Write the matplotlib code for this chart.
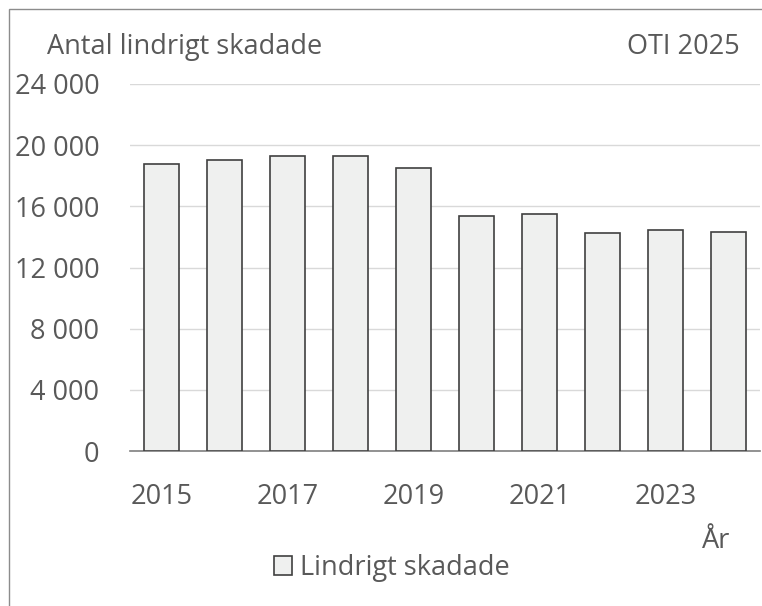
import matplotlib.pyplot as plt
from matplotlib.patches import Rectangle
from matplotlib.ticker import FuncFormatter

# Data
years = [2015, 2016, 2017, 2018, 2019, 2020, 2021, 2022, 2023, 2024]
lindrigt = [18800, 19050, 19300, 19300, 18530, 15370, 15520, 14260, 14430, 14340]
tick_years = [2015, 2017, 2019, 2021, 2023]
yticks = [0, 4000, 8000, 12000, 16000, 20000, 24000]

plt.rcParams['font.family'] = ['Open Sans', 'DejaVu Sans']
txt = '#595959'
fs = 19.5

fig = plt.figure(figsize=(7.62, 6.06), dpi=100)
W, H = 762, 606
ax = fig.add_axes([130 / W, 1 - 451 / H, 630 / W, (451 - 84) / H])

ax.bar(years, lindrigt, width=0.55, color='#eff0ef', edgecolor='#404040',
       linewidth=1.2, label='Lindrigt skadade', zorder=3)

ax.set_xlim(2014.5, 2024.5)
ax.set_ylim(0, 24000)
ax.set_yticks(yticks)
ax.yaxis.set_major_formatter(FuncFormatter(lambda v, p: f"{int(v):,}".replace(",", " ")))
ax.set_xticks(tick_years)
ax.grid(axis='y', color='#d9d9d9', linewidth=1, zorder=0)
for s in ['top', 'right', 'left']:
    ax.spines[s].set_visible(False)
ax.spines['bottom'].set_color('#7f7f7f')
ax.spines['bottom'].set_linewidth(1.2)
ax.tick_params(axis='both', length=0, labelsize=fs, colors=txt)
ax.tick_params(axis='y', pad=22)
ax.tick_params(axis='x', pad=23)

fig.text(47 / W, 1 - 47 / H, 'Antal lindrigt skadade', fontsize=fs, color=txt, va='center')
fig.text(740 / W, 1 - 47 / H, 'OTI 2025', fontsize=fs, color=txt, va='center', ha='right')
fig.text(730 / W, 1 - 541 / H, 'År', fontsize=fs, color=txt, va='center', ha='right')

leg = fig.legend(loc='center', bbox_to_anchor=(392 / W, 1 - 568 / H), frameon=False,
                 fontsize=fs, handlelength=0.65, handleheight=0.65, handletextpad=0.3)
for t in leg.get_texts():
    t.set_color(txt)

# figure frame
fig.patches.append(Rectangle((9 / W, -0.1), 1.2, 1 - 9 / H + 0.1, transform=fig.transFigure,
                             fill=False, edgecolor='#8c8c8c', linewidth=1))

fig.savefig('out.png', dpi=100)
